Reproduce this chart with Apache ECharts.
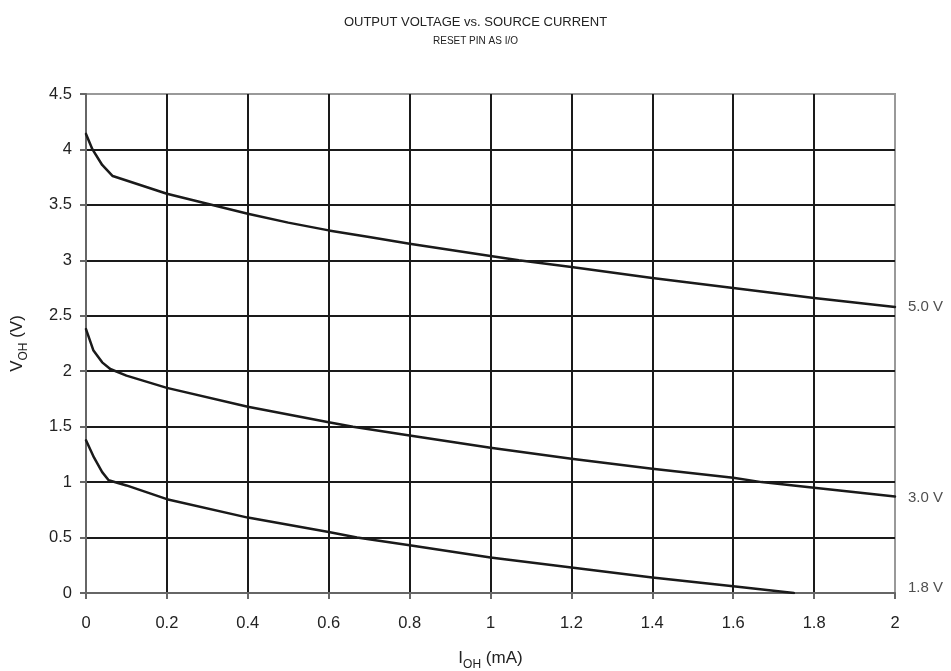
<!DOCTYPE html>
<html>
<head>
<meta charset="utf-8">
<script src="https://cdn.jsdelivr.net/npm/echarts@6/dist/echarts.min.js"></script>
<style>html,body{margin:0;padding:0;background:#fff;}#c{width:951px;height:671px;}</style>
</head>
<body>
<div id="c"></div>
<script>
// Data
const curveNames = ['5.0 V', '3.0 V', '1.8 V'];
const iOH_5V = [0, 0.016, 0.04, 0.066, 0.1, 0.2, 0.3, 0.4, 0.5, 0.6, 0.7, 0.8, 1.0, 1.07, 1.2, 1.4, 1.6, 1.8, 2.0];
const vOH_5V = [4.14, 4.0, 3.86, 3.76, 3.72, 3.60, 3.51, 3.42, 3.34, 3.27, 3.21, 3.15, 3.04, 3.0, 2.94, 2.84, 2.75, 2.66, 2.58];
const iOH_3V = [0, 0.018, 0.04, 0.06, 0.1, 0.2, 0.4, 0.6, 0.66, 0.8, 1.0, 1.2, 1.4, 1.6, 1.67, 1.8, 2.0];
const vOH_3V = [2.38, 2.19, 2.08, 2.02, 1.96, 1.85, 1.68, 1.54, 1.50, 1.42, 1.31, 1.21, 1.12, 1.04, 1.0, 0.95, 0.87];
const iOH_18V = [0, 0.02, 0.04, 0.056, 0.1, 0.2, 0.4, 0.6, 0.67, 0.8, 1.0, 1.2, 1.4, 1.6, 1.75];
const vOH_18V = [1.377, 1.22, 1.09, 1.017, 0.97, 0.846, 0.68, 0.55, 0.50, 0.43, 0.32, 0.23, 0.14, 0.06, 0.0];
const endLabelX = [2, 2, 2];
const endLabelY = [2.58, 0.86, 0.05];

const zip = (a, b) => a.map((v, i) => [v, b[i]]);
const curves = [zip(iOH_5V, vOH_5V), zip(iOH_3V, vOH_3V), zip(iOH_18V, vOH_18V)];

const chart = echarts.init(document.getElementById('c'), null, {renderer: 'canvas'});
const FONT = 'Liberation Sans, Arial, sans-serif';

const series = curves.map((d, k) => ({
  name: curveNames[k],
  type: 'line',
  data: d,
  showSymbol: false,
  smooth: false,
  lineStyle: {color: '#1a1a1a', width: 2.5, join: 'round', cap: 'round'},
  z: 5
}));
series.push({
  type: 'scatter',
  data: curveNames.map((n, k) => ({value: [endLabelX[k], endLabelY[k]], name: n})),
  symbolSize: 0,
  clip: false,
  silent: true,
  label: {
    show: true,
    position: 'right',
    distance: 13,
    formatter: p => p.name,
    color: '#222',
    fontSize: 15,
    fontFamily: FONT
  }
});

const nameRich = {
  a: {fontSize: 17, color: '#222', fontFamily: FONT, lineHeight: 22, verticalAlign: 'bottom'},
  b: {fontSize: 12, color: '#222', fontFamily: FONT, lineHeight: 16, verticalAlign: 'bottom', padding: [0, 0, -4, 0]}
};

chart.setOption({
  backgroundColor: '#fff',
  animation: false,
  title: {
    text: 'OUTPUT VOLTAGE vs. SOURCE CURRENT',
    subtext: 'RESET PIN AS I/O',
    left: 'center',
    top: 11,
    itemGap: 7,
    textStyle: {fontSize: 13, fontWeight: 'normal', color: '#222', fontFamily: FONT},
    subtextStyle: {fontSize: 10, color: '#222', fontFamily: FONT}
  },
  grid: {
    left: 86, right: 56, top: 94, bottom: 78,
    containLabel: false,
    outerBoundsMode: 'none',
    show: true, borderColor: '#999', borderWidth: 2
  },
  xAxis: {
    type: 'value',
    min: 0, max: 2, interval: 0.2,
    name: '{a|I}{b|OH}{a| (mA)}',
    nameLocation: 'middle',
    nameGap: 52,
    nameTextStyle: {rich: nameRich},
    axisLine: {show: true, lineStyle: {color: '#666', width: 2}},
    axisTick: {show: true, length: 6, lineStyle: {color: '#666', width: 2}},
    axisLabel: {
      margin: 22, fontSize: 16.5, color: '#222', fontFamily: FONT,
      formatter: v => String(+v.toFixed(1))
    },
    splitLine: {show: true, showMinLine: false, showMaxLine: false, lineStyle: {color: '#1a1a1a', width: 2}}
  },
  yAxis: {
    type: 'value',
    min: 0, max: 4.5, interval: 0.5,
    name: '{a|V}{b|OH}{a| (V)}',
    nameLocation: 'middle',
    nameGap: 60,
    nameRotate: 90,
    nameTextStyle: {rich: nameRich},
    axisLine: {show: true, lineStyle: {color: '#666', width: 2}},
    axisTick: {show: true, length: 6, lineStyle: {color: '#666', width: 2}},
    axisLabel: {
      margin: 14, fontSize: 16.5, color: '#222', fontFamily: FONT,
      formatter: v => String(+v.toFixed(1))
    },
    splitLine: {show: true, showMinLine: false, showMaxLine: false, lineStyle: {color: '#1a1a1a', width: 2}}
  },
  series: series
});
</script>
</body>
</html>
